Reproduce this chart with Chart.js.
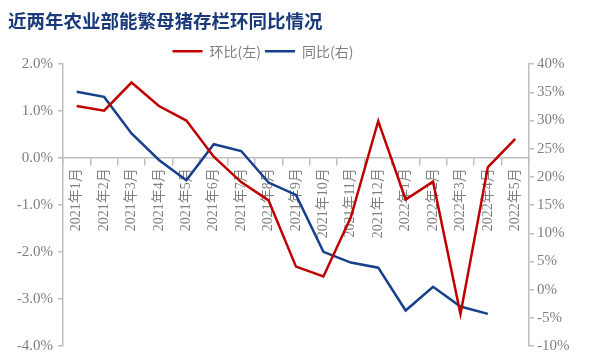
<!DOCTYPE html>
<html>
<head>
<meta charset="utf-8">
<script src="https://cdn.jsdelivr.net/npm/chart.js@4"></script>
<style>
  html, body { margin:0; padding:0; background:#fff; }
  #wrap { width:600px; height:360px; }
</style>
</head>
<body>
<div id="wrap"><canvas id="chart" width="600" height="360"></canvas></div>
<script>
// 数据
const months = ['2021年1月','2021年2月','2021年3月','2021年4月','2021年5月','2021年6月','2021年7月','2021年8月','2021年9月',
                '2021年10月','2021年11月','2021年12月','2022年1月','2022年2月','2022年3月','2022年4月','2022年5月'];
const momValues = [1.11, 1.01, 1.61, 1.11, 0.80, 0.03, -0.51, -0.90, -2.31, -2.52, -1.26, 0.79, -0.88, -0.50, -3.32, -0.19, 0.41];
const yoyValues = [35.1, 34.2, 27.7, 23.0, 19.4, 25.8, 24.6, 19.0, 16.8, 6.7, 4.8, 3.9, -3.7, 0.5, -3.0, -4.3, null];

const axisColor = '#bfbfbf';
const labelColor = '#808080';
const tickFont = { family:'"Liberation Serif", "Noto Sans CJK SC", serif', size:15 };

// 图例位置微调(原图图例偏左)
const legendNudge = {
  id:'legendNudge',
  afterLayout(chart){
    const lg = chart.legend;
    if(!lg) return;
    lg.left -= 41; lg.right -= 41;
    lg.top += 4;  lg.bottom += 4;
  }
};

const ctx = document.getElementById('chart').getContext('2d');

new Chart(ctx, {
  type:'line',
  data:{
    labels: months,
    datasets:[
      {
        label:'环比(左)',
        data: momValues,
        yAxisID:'y',
        borderColor:'#c00000',
        backgroundColor:'#c00000',
        borderWidth:2.5,
        pointRadius:0,
        tension:0
      },
      {
        label:'同比(右)',
        data: yoyValues,
        yAxisID:'y1',
        borderColor:'#163f8c',
        backgroundColor:'#163f8c',
        borderWidth:2.5,
        pointRadius:0,
        tension:0
      }
    ]
  },
  options:{
    responsive:false,
    animation:false,
    devicePixelRatio:1,
    layout:{ padding:{ left:8, right:0, top:0, bottom:14 } },
    plugins:{
      title:{
        display:true,
        text:'近两年农业部能繁母猪存栏环同比情况',
        align:'start',
        color:'#1b3a7a',
        font:{ family:'"Noto Sans CJK SC", sans-serif', size:18.5, weight:'bold' },
        padding:{ top:10, bottom:4 }
      },
      legend:{
        display:true,
        labels:{
          usePointStyle:true,
          pointStyle:'line',
          pointStyleWidth:30,
          boxHeight:12,
          padding:4,
          color:'#7f7f7f',
          font:{ family:'"Noto Sans CJK SC", sans-serif', size:14 }
        }
      },
      tooltip:{ enabled:false }
    },
    scales:{
      x:{
        type:'category',
        position:{ y:0 },
        offset:true,
        grid:{ display:true, offset:true, drawOnChartArea:false, drawTicks:true, tickLength:7, color:axisColor, lineWidth:1.5 },
        border:{ display:true, color:axisColor, width:1.5 },
        ticks:{
          autoSkip:false,
          minRotation:90,
          maxRotation:90,
          padding:3,
          color:labelColor,
          font:{ family:'"Liberation Serif", "Noto Sans CJK SC", serif', size:14 }
        },
        afterFit:(scale)=>{ scale.height = 0; }
      },
      y:{
        position:'left',
        min:-4, max:2,
        grid:{ drawOnChartArea:false, drawTicks:true, tickLength:5, color:axisColor, lineWidth:1.5 },
        border:{ display:true, color:axisColor, width:1.5 },
        ticks:{ stepSize:1, padding:5, color:labelColor, font:tickFont, callback:v=> v.toFixed(1)+'%' },
        afterFit:(scale)=>{ scale.width = 55; }
      },
      y1:{
        position:'right',
        min:-10, max:40,
        grid:{ drawOnChartArea:false, drawTicks:true, tickLength:5, color:axisColor, lineWidth:1.5 },
        border:{ display:true, color:axisColor, width:1.5 },
        ticks:{ stepSize:5, padding:3, color:labelColor, font:tickFont, callback:v=> v+'%' },
        afterFit:(scale)=>{ scale.width = 71; }
      }
    }
  },
  plugins:[legendNudge]
});
</script>
</body>
</html>
